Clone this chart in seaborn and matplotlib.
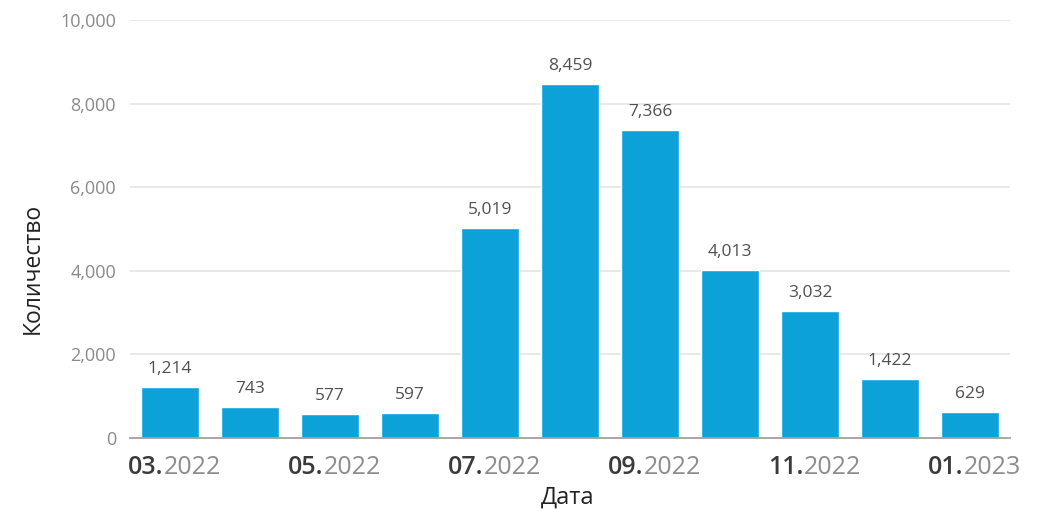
import matplotlib
matplotlib.use("Agg")
import matplotlib.pyplot as plt
import seaborn as sns
import pandas as pd

# Monthly counts, March 2022 – January 2023
months = ["03.2022", "04.2022", "05.2022", "06.2022", "07.2022", "08.2022",
          "09.2022", "10.2022", "11.2022", "12.2022", "01.2023"]
counts = [1214, 743, 577, 597, 5019, 8459, 7366, 4013, 3032, 1422, 629]

# Labelled ticks sit on every other month boundary
tick_months = ["03.", "05.", "07.", "09.", "11.", "01."]
tick_years = ["2022", "2022", "2022", "2022", "2022", "2023"]
y_ticks = [0, 2000, 4000, 6000, 8000, 10000]

sns.set_theme(style="white")
plt.rcParams["font.family"] = ["Open Sans", "DejaVu Sans"]

df = pd.DataFrame({"Дата": months, "Количество": counts})

fig = plt.figure(figsize=(10.44, 5.13), dpi=100)
ax = fig.add_axes([0.1245, 0.1462, 0.843, 0.8148])

BAR = "#0da1d9"
sns.barplot(data=df, x="Дата", y="Количество", color=BAR, width=0.72,
            saturation=1, ax=ax, zorder=3)

ax.set_xlim(-0.5, len(months) - 0.5)
ax.set_ylim(0, 10000)

# horizontal grid
ax.set_yticks(y_ticks)
ax.set_yticklabels([f"{v:,}" for v in y_ticks])
ax.yaxis.grid(True, color="#e4e4e4", linewidth=1.2, zorder=0)
ax.xaxis.grid(False)
ax.tick_params(axis="y", length=0, pad=10, labelsize=13, labelcolor="#8a8a8a")

for s in ["top", "right", "left"]:
    ax.spines[s].set_visible(False)
ax.spines["bottom"].set_color("#a0a0a0")
ax.spines["bottom"].set_linewidth(1.3)
ax.spines["bottom"].set_zorder(4)

# ticks at month boundaries
boundary = [2 * i - 0.5 for i in range(len(tick_months))] + [len(months) - 0.5]
ax.set_xticks(boundary)
ax.set_xticklabels([""] * len(boundary))
ax.tick_params(axis="x", direction="out", length=5, width=1.3, color="#a0a0a0")

# two-tone date labels: semibold month, lighter year
for pos, mo, yr in zip(boundary, tick_months, tick_years):
    t = ax.annotate(mo, xy=(pos, 0), xycoords=("data", "axes fraction"),
                    xytext=(-2, -17), textcoords="offset pixels",
                    ha="left", va="top", fontsize=18, fontweight="semibold",
                    color="#3a3a3a")
    ax.annotate(yr, xy=(1, 0), xycoords=t, ha="left", va="bottom",
                fontsize=18, color="#8c8c8c")

# value labels above bars
for i, v in enumerate(counts):
    ax.annotate(f"{v:,}", xy=(i, v), xytext=(0, 10), textcoords="offset pixels",
                ha="center", va="bottom", fontsize=12.5, color="#505050")

ax.set_xlabel("Дата", fontsize=17, color="#222222")
ax.xaxis.set_label_coords(0.497, -0.115)
ax.set_ylabel("Количество", fontsize=16.5, color="#222222")
ax.yaxis.set_label_coords(-0.097, 0.405)

fig.savefig("out.png", dpi=100, facecolor="white")
